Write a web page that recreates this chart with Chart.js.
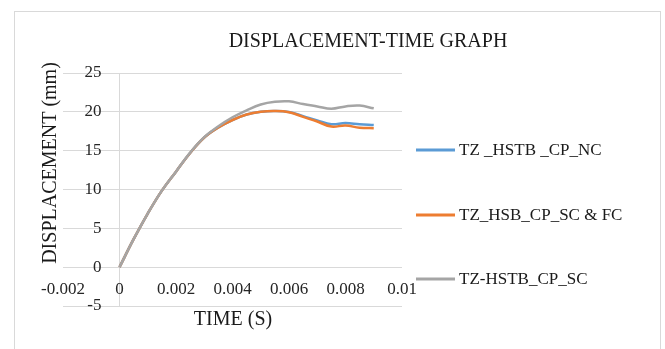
<!DOCTYPE html>
<html>
<head>
<meta charset="utf-8">
<script src="https://cdn.jsdelivr.net/npm/chart.js@4/dist/chart.umd.min.js"></script>
<style>
    body { margin: 0; background: #fff; }
    #contenedor { width: 665px; height: 349px; }
</style>
</head>
<body>
<div id="contenedor"><canvas id="grafico"></canvas></div>
<script>
const tiempos = [0, 0.0005, 0.001, 0.0015, 0.002, 0.0025, 0.003, 0.0035, 0.004, 0.0045,
                 0.005, 0.0055, 0.006, 0.0065, 0.007, 0.0075, 0.008, 0.0085, 0.009];
const serieNC = [0, 3.6, 6.9, 9.85, 12.3, 14.7, 16.7, 18.0, 18.95, 19.65,
                 20.0, 20.1, 19.97, 19.45, 18.9, 18.4, 18.55, 18.4, 18.3];
const serieSCFC = [0, 3.6, 6.9, 9.85, 12.3, 14.7, 16.7, 18.0, 18.95, 19.65,
                   20.0, 20.1, 19.95, 19.35, 18.75, 18.1, 18.25, 17.95, 17.9];
const serieSC = [0, 3.6, 6.9, 9.85, 12.3, 14.75, 16.75, 18.15, 19.3, 20.2,
                 20.95, 21.3, 21.35, 21.0, 20.7, 20.4, 20.7, 20.8, 20.45];
const nombres = ['TZ _HSTB _CP_NC', 'TZ_HSB_CP_SC & FC', 'TZ-HSTB_CP_SC'];
const colores = ['#5b9bd5', '#ed7d31', '#a5a5a5'];
const ticksX = [-0.002, 0, 0.002, 0.004, 0.006, 0.008, 0.01];
const ticksY = [-5, 0, 5, 10, 15, 20, 25];

const fuente = '"Liberation Serif", "Times New Roman", serif';

function puntos(valores) {
    return tiempos.map((t, i) => ({ x: t, y: valores[i] }));
}

// marco, titulos y leyenda dibujados a mano
const textos = {
    id: 'textos',
    beforeDraw(chart) {
        const ctx = chart.ctx;
        ctx.save();
        ctx.strokeStyle = '#d9d9d9';
        ctx.lineWidth = 1;
        ctx.strokeRect(14.5, 11.5, 646, 400);
        ctx.restore();
    },
    afterDraw(chart) {
        const ctx = chart.ctx;
        ctx.save();
        ctx.fillStyle = '#1a1a1a';
        ctx.textBaseline = 'middle';
        ctx.textAlign = 'center';
        ctx.font = '20px ' + fuente;
        ctx.fillText('DISPLACEMENT-TIME GRAPH', 368, 42);
        ctx.fillText('TIME (S)', 233, 320);

        ctx.save();
        ctx.translate(51, 163);
        ctx.rotate(-Math.PI / 2);
        ctx.fillText('DISPLACEMENT (mm)', 0, 0);
        ctx.restore();

        ctx.font = '17px ' + fuente;
        ctx.textAlign = 'left';
        const filas = [150, 215, 279];
        chart.data.datasets.forEach((ds, i) => {
            ctx.fillStyle = ds.borderColor;
            ctx.fillRect(416, filas[i] - 1.5, 39, 3);
            ctx.fillStyle = '#1a1a1a';
            ctx.fillText(ds.label, 459, filas[i] + 1);
        });
        ctx.restore();
    }
};

new Chart(document.getElementById('grafico'), {
    type: 'line',
    data: {
        datasets: [
            { label: nombres[0], data: puntos(serieNC), borderColor: colores[0], order: 2 },
            { label: nombres[1], data: puntos(serieSCFC), borderColor: colores[1], order: 1 },
            { label: nombres[2], data: puntos(serieSC), borderColor: colores[2], order: 0 }
        ]
    },
    options: {
        responsive: true,
        maintainAspectRatio: false,
        animation: false,
        layout: { padding: { left: 63, right: 263, top: 73, bottom: 43 } },
        elements: {
            line: { borderWidth: 2.5, tension: 0.4, fill: false },
            point: { radius: 0 }
        },
        plugins: {
            legend: { display: false },
            title: { display: false },
            tooltip: { enabled: false }
        },
        scales: {
            x: {
                type: 'linear',
                min: ticksX[0],
                max: ticksX[ticksX.length - 1],
                position: { y: 0 },
                afterBuildTicks: axis => { axis.ticks = ticksX.map(v => ({ value: v })); },
                grid: {
                    drawTicks: false,
                    color: c => (c.tick && c.tick.value === 0) ? '#d9d9d9' : 'rgba(0,0,0,0)'
                },
                border: { display: false },
                ticks: {
                    padding: 12,
                    color: '#262626',
                    font: { family: fuente, size: 17 },
                    callback: v => String(Number(v.toFixed(4)))
                }
            },
            y: {
                type: 'linear',
                min: ticksY[0],
                max: ticksY[ticksY.length - 1],
                // etiquetas un poco a la izquierda del eje x=0
                position: { x: -0.00064 },
                afterBuildTicks: axis => { axis.ticks = ticksY.map(v => ({ value: v })); },
                grid: { drawTicks: false, color: '#d9d9d9' },
                border: { display: false },
                ticks: {
                    color: '#262626',
                    font: { family: fuente, size: 17 }
                }
            }
        }
    },
    plugins: [textos]
});
</script>
</body>
</html>
